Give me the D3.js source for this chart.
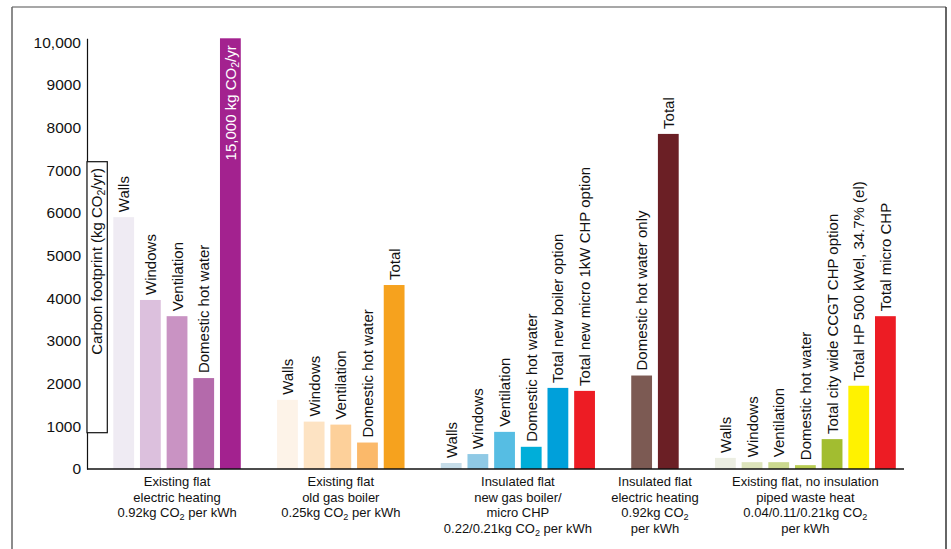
<!DOCTYPE html>
<html>
<head>
<meta charset="utf-8">
<script src="https://cdn.jsdelivr.net/npm/d3@7"></script>
<style>
body { margin: 0; background: #fff; }
text { font-family: "Liberation Sans", Arial, sans-serif; fill: #111; }
</style>
</head>
<body>
<svg id="chart" width="951" height="549"></svg>
<script>
'use strict';

// group captions under the x axis
var groupLines = [
	['Existing flat', 'electric heating', '0.92kg CO2 per kWh'],
	['Existing flat', 'old gas boiler', '0.25kg CO2 per kWh'],
	['Insulated flat', 'new gas boiler/', 'micro CHP', '0.22/0.21kg CO2 per kWh'],
	['Insulated flat', 'electric heating', '0.92kg CO2', 'per kWh'],
	['Existing flat, no insulation', 'piped waste heat', '0.04/0.11/0.21kg CO2', 'per kWh']
];

var barNames = [
	['Walls', 'Windows', 'Ventilation', 'Domestic hot water', '15,000 kg CO2/yr'],
	['Walls', 'Windows', 'Ventilation', 'Domestic hot water', 'Total'],
	['Walls', 'Windows', 'Ventilation', 'Domestic hot water', 'Total new boiler option', 'Total new micro 1kW CHP option'],
	['Domestic hot water only', 'Total'],
	['Walls', 'Windows', 'Ventilation', 'Domestic hot water', 'Total city wide CCGT CHP option', 'Total HP 500 kWel, 34.7% (el)', 'Total micro CHP']
];

var barValues = [
	[5900, 3960, 3580, 2130, 15000],
	[1620, 1110, 1040, 620, 4310],
	[140, 350, 870, 520, 1900, 1830],
	[2190, 7850],
	[260, 160, 160, 90, 700, 1950, 3580]
];

var barColours = [
	['#efebf3', '#dcc0dd', '#c993c3', '#b46aab', '#a3228f'],
	['#fdf3e8', '#fde3c3', '#fdd09a', '#fbb96a', '#f6a21e'],
	['#c6dde9', '#8fc9e5', '#56bde3', '#00aed9', '#00a0da', '#ed1c24'],
	['#7c5a53', '#6b1f25'],
	['#eceee2', '#dde4bb', '#cbd98f', '#b8cc52', '#a2bd30', '#fff200', '#ed1c24']
];

var yTicks = [0, 1000, 2000, 3000, 4000, 5000, 6000, 7000, 8000, 9000, 10000];
var yTickLabels = ['0', '1000', '2000', '3000', '4000', '5000', '6000', '7000', '8000', '9000', '10,000'];
var yTitle = 'Carbon footprint (kg CO2/yr)';

var svg = d3.select('#chart');

// frame round the figure
svg.append('line').attr('x1', 12).attr('x2', 946).attr('y1', 7).attr('y2', 7)
	.style('stroke', '#8a8a8a').style('stroke-width', 1.5);
svg.append('line').attr('x1', 12).attr('x2', 12).attr('y1', 7).attr('y2', 549)
	.style('stroke', '#666').style('stroke-width', 1.5);
svg.append('line').attr('x1', 946).attr('x2', 946).attr('y1', 7).attr('y2', 549)
	.style('stroke', '#333').style('stroke-width', 1.5);

var yMax = 10090, gap = 1.14, barW = 20.8;

var y = d3.scaleLinear().domain([0, yMax]).range([469, 38.3]).clamp(true);

// slot index of every bar, with a gap between groups
var slots = [], n = 0;
barValues.forEach(function (vals, g) {
	slots.push(vals.map(function (v, i) { return n + i + g * gap; }));
	n += vals.length;
});
var lastSlot = slots[slots.length - 1][slots[slots.length - 1].length - 1];
var x = d3.scaleLinear().domain([0, lastSlot]).range([113.3, 875]);

function writeText(t, s) {
	var parts = s.split('CO2');
	parts.forEach(function (p, i) {
		if (i > 0) {
			t.append('tspan').text('CO');
			t.append('tspan').attr('dy', 3).style('font-size', '0.7em').text('2');
			t.append('tspan').attr('dy', -3).text(p);
		} else {
			t.append('tspan').text(p);
		}
	});
}

// y axis
var yAxis = d3.axisLeft(y).tickValues(yTicks).tickSize(0).tickPadding(6)
	.tickFormat(function (d, i) { return yTickLabels[i]; });
var ag = svg.append('g').attr('transform', 'translate(87,0)').call(yAxis);
ag.select('.domain').style('stroke', '#111').style('stroke-width', 1.2);
ag.selectAll('text').style('font-size', '15.5px').style('font-family', '"Liberation Sans", Arial, sans-serif').style('fill', '#111');

// boxed axis title
svg.append('rect').attr('x', 87).attr('y', 161.7).attr('width', 20.3).attr('height', 271)
	.style('fill', '#fff').style('stroke', '#111').style('stroke-width', 1.2);
var tt = svg.append('text').attr('transform', 'translate(102,168) rotate(-90)')
	.attr('text-anchor', 'end').style('font-size', '15px');
writeText(tt, yTitle);

// bars
barValues.forEach(function (vals, g) {
	var gr = svg.append('g');
	gr.selectAll('rect').data(vals).enter().append('rect')
		.attr('x', function (d, i) { return x(slots[g][i]); })
		.attr('y', function (d) { return y(d); })
		.attr('width', barW)
		.attr('height', function (d) { return y(0) - y(d); })
		.style('fill', function (d, i) { return barColours[g][i]; });

	vals.forEach(function (v, i) {
		var cx = x(slots[g][i]) + barW / 2;
		var t;
		if (v > yMax) {
			t = gr.append('text').attr('transform', 'translate(' + (cx + 5.5) + ',' + (y(v) + 7) + ') rotate(-90)')
				.attr('text-anchor', 'end').style('font-size', '15px').style('fill', '#fff');
		} else {
			t = gr.append('text').attr('transform', 'translate(' + (cx + 5.5) + ',' + (y(v) - 5) + ') rotate(-90)')
				.attr('text-anchor', 'start').style('font-size', '15px');
		}
		writeText(t, barNames[g][i]);
	});

	var s = slots[g];
	var gc = (x(s[0]) + x(s[s.length - 1]) + barW) / 2;
	groupLines[g].forEach(function (line, k) {
		var t = svg.append('text').attr('x', gc).attr('y', 486 + k * 15.7)
			.attr('text-anchor', 'middle').style('font-size', '13px');
		writeText(t, line);
	});
});

// baseline
svg.append('line').attr('x1', 87).attr('x2', 904).attr('y1', y(0)).attr('y2', y(0))
	.style('stroke', '#111').style('stroke-width', 1.5);
</script>
</body>
</html>
